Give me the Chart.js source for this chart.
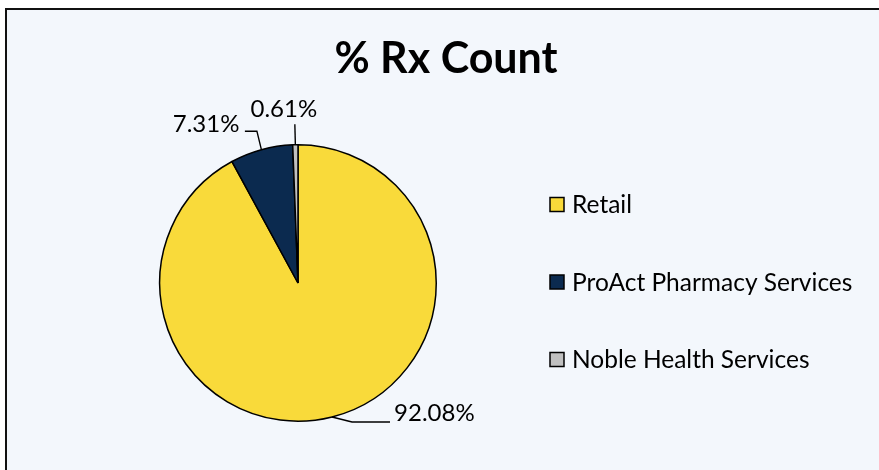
<!DOCTYPE html>
<html>
<head>
<meta charset="utf-8">
<script src="https://cdn.jsdelivr.net/npm/chart.js@4"></script>
<style>
  html, body { margin: 0; padding: 0; background: #fff; }
  #wrap { width: 879px; height: 470px; }
</style>
</head>
<body>
<div id="wrap"><canvas id="rxChart" width="879" height="470"></canvas></div>
<script>
const titleText = '% Rx Count';
const categories = ['Retail', 'ProAct Pharmacy Services', 'Noble Health Services'];
const rxShare = [92.08, 7.31, 0.61];
const sliceColors = ['#F9DA3A', '#0B2A4F', '#C0C0C0'];

// leader line + label offsets, relative to the slice's mid-edge point
const labelLayout = [
    { pts: [[0, 0], [20, 5], [58, 5]], text: [62, -4], align: 'left' },
    { pts: [[0, 0], [-4.5, -18.5], [-16.5, -18.5]], text: [-22, -25], align: 'right' },
    { pts: [[0, 0], [-0.5, -20.5]], text: [-11.5, -35.5], align: 'center' }
];

const FONT = 'Lato, "Noto Sans", sans-serif';

const rxPlugin = {
    id: 'rxDecor',
    beforeDraw(chart) {
        const ctx = chart.ctx;
        ctx.save();
        ctx.fillStyle = '#ffffff';
        ctx.fillRect(0, 0, chart.width, chart.height);
        ctx.fillStyle = '#F3F7FC';
        ctx.fillRect(6, 9, chart.width + 10, chart.height + 10);
        ctx.strokeStyle = '#111';
        ctx.lineWidth = 2;
        ctx.strokeRect(6, 9, chart.width + 10, chart.height + 10);
        ctx.restore();
    },
    afterDatasetsDraw(chart) {
        const ctx = chart.ctx;
        const meta = chart.getDatasetMeta(0);
        ctx.save();

        // title
        ctx.fillStyle = '#000';
        ctx.font = 'bold 43px ' + FONT;
        ctx.textAlign = 'center';
        ctx.textBaseline = 'alphabetic';
        ctx.fillText(titleText, 446, 73);

        // data labels with leader lines
        ctx.font = '24px ' + FONT;
        ctx.textBaseline = 'middle';
        ctx.strokeStyle = '#000';
        ctx.lineWidth = 1.4;
        meta.data.forEach((arc, i) => {
            const p = arc.getProps(['x', 'y', 'startAngle', 'endAngle', 'outerRadius'], true);
            const mid = (p.startAngle + p.endAngle) / 2;
            const ax = p.x + Math.cos(mid) * p.outerRadius;
            const ay = p.y + Math.sin(mid) * p.outerRadius;
            const lay = labelLayout[i];
            ctx.beginPath();
            lay.pts.forEach((pt, k) => {
                if (k === 0) ctx.moveTo(ax + pt[0], ay + pt[1]);
                else ctx.lineTo(ax + pt[0], ay + pt[1]);
            });
            ctx.stroke();
            ctx.textAlign = lay.align;
            ctx.fillText(rxShare[i].toFixed(2) + '%', ax + lay.text[0], ay + lay.text[1]);
        });

        // legend
        const legX = 550, legY = 204.5, legGap = 77.5;
        ctx.textAlign = 'left';
        ctx.font = '24.5px ' + FONT;
        categories.forEach((name, i) => {
            const cy = legY + i * legGap;
            ctx.fillStyle = sliceColors[i];
            ctx.fillRect(legX, cy - 7, 14, 14);
            ctx.strokeStyle = '#000';
            ctx.lineWidth = 1.5;
            ctx.strokeRect(legX, cy - 7, 14, 14);
            ctx.fillStyle = '#000';
            ctx.fillText(name, 572, cy + 1);
        });
        ctx.restore();
    }
};

new Chart(document.getElementById('rxChart'), {
    type: 'pie',
    data: {
        labels: categories,
        datasets: [{
            data: rxShare,
            backgroundColor: sliceColors,
            borderColor: '#000',
            borderWidth: 1.5,
            hoverOffset: 0
        }]
    },
    options: {
        responsive: false,
        animation: false,
        layout: { padding: { left: 159, right: 442, top: 144, bottom: 48 } },
        plugins: {
            legend: { display: false },
            title: { display: false },
            tooltip: { enabled: false }
        }
    },
    plugins: [rxPlugin]
});
</script>
</body>
</html>
